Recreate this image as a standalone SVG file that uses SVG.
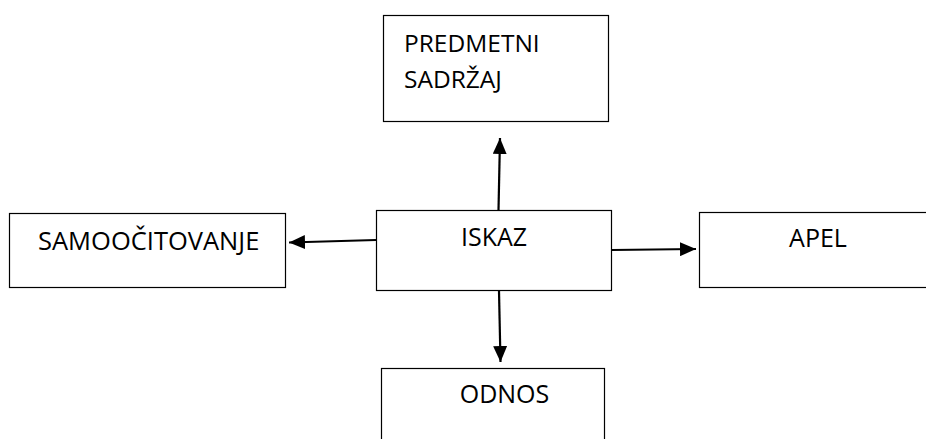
<svg xmlns="http://www.w3.org/2000/svg" width="926" height="439" viewBox="0 0 926 439">
<style>
.box{fill:#fff;stroke:#000;stroke-width:1.2}
.t{font-family:"Open Sans","Liberation Sans",sans-serif;font-size:25px;fill:#000}
.c{stroke:#000;stroke-width:2.2;fill:none}
</style>
<defs>
<marker id="ah" markerUnits="userSpaceOnUse" markerWidth="16" markerHeight="14" refX="16" refY="7" orient="auto">
<path d="M0,0 L16,7 L0,14 Z" fill="#000"/>
</marker>
</defs>
<rect width="926" height="439" fill="#fff"/>
<g id="predmetni">
<rect class="box" x="383.5" y="15.5" width="225" height="106"/>
<text class="t" x="404" y="52" style="font-size:24.5px">PREDMETNI</text>
<text class="t" x="404" y="88" style="font-size:24.5px">SADRŽAJ</text>
</g>
<g id="samoocitovanje">
<rect class="box" x="9.5" y="213.5" width="276" height="74"/>
<text class="t" x="38" y="249.5" style="font-size:25.5px">SAMOOČITOVANJE</text>
</g>
<g id="iskaz">
<rect class="box" x="376.5" y="210.5" width="235" height="80"/>
<text class="t" x="494" y="246" text-anchor="middle">ISKAZ</text>
</g>
<g id="apel">
<rect class="box" x="699.5" y="212.5" width="240" height="75"/>
<text class="t" x="818" y="246.5" text-anchor="middle">APEL</text>
</g>
<g id="odnos">
<rect class="box" x="381.5" y="368.5" width="223" height="90"/>
<text class="t" x="504.5" y="403" text-anchor="middle">ODNOS</text>
</g>
<g id="connectors">
<line class="c" x1="498.5" y1="210" x2="500" y2="138" marker-end="url(#ah)"/>
<line class="c" x1="376" y1="240" x2="289" y2="242.5" marker-end="url(#ah)"/>
<line class="c" x1="612" y1="250" x2="696" y2="249" marker-end="url(#ah)"/>
<line class="c" x1="499" y1="291" x2="500.5" y2="362" marker-end="url(#ah)"/>
</g>
</svg>
